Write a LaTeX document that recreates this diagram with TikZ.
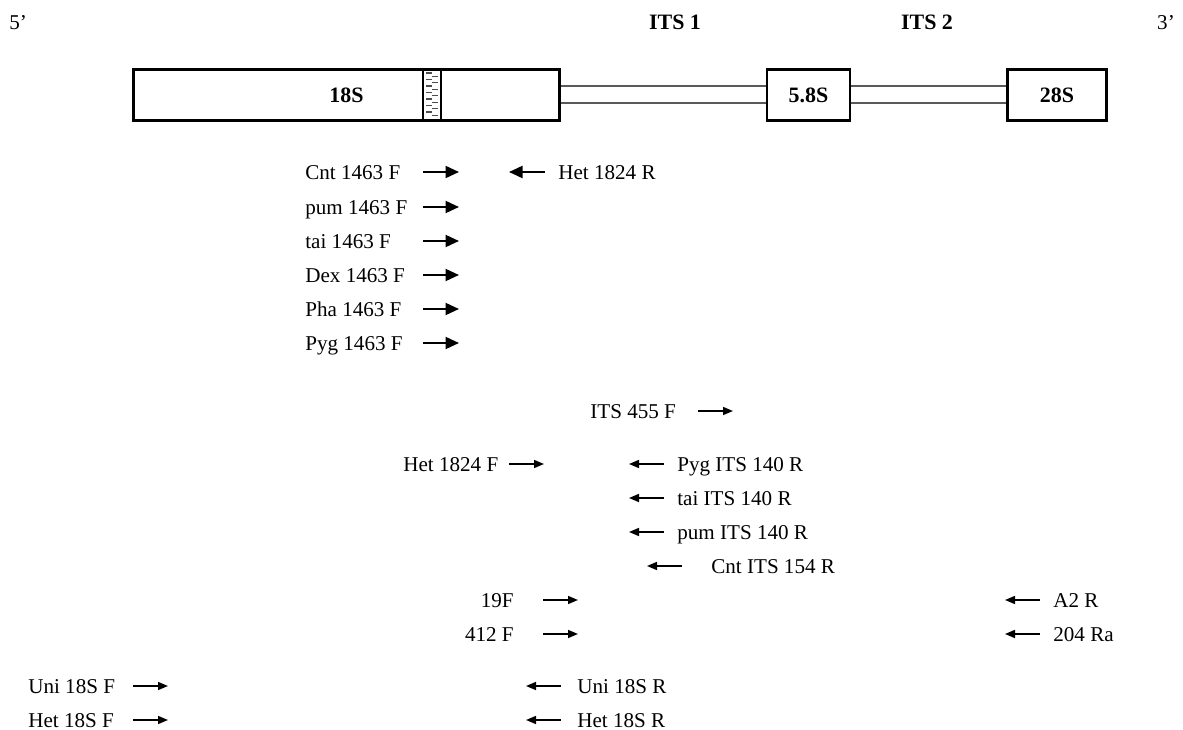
\documentclass[tikz,border=0pt]{standalone}
\usepackage{fontspec}
\setmainfont{Liberation Serif}
\usetikzlibrary{arrows.meta}
\tikzset{primer/.style={inner sep=0pt, text height=8pt, text depth=0pt, font=\fontsize{12}{14}\selectfont}}
\tikzset{gene/.style={draw, line width=1.6pt, fill=white, minimum height=1.02cm, inner sep=0pt, font=\fontsize{12.5}{14}\selectfont\bfseries}}

\begin{document}
\begin{tikzpicture}[x=0.02cm, y=-0.02cm,
  fwd/.style={-{Triangle[length=0.27cm, width=0.24cm]}, line width=1.2pt},
  thin fwd/.style={-{Triangle[length=0.2cm, width=0.16cm]}, line width=0.9pt},
  spacer/.style={draw=black!65, line width=0.8pt}]
\useasboundingbox (0,0) rectangle (1183,730);
% heading
\node[primer, anchor=west] (fiveprime) at (9,22) {5’};
\node[primer, font=\fontsize{12.5}{14}\selectfont\bfseries] (its1) at (675,22) {ITS 1};
\node[primer, font=\fontsize{12.5}{14}\selectfont\bfseries] (its2) at (927,22) {ITS 2};
\node[primer] (threeprime) at (1166,22) {3’};
% rDNA
\node[gene, minimum width=8.52cm] (s18) at (346.5,95) {18S};
\node[gene, minimum width=1.66cm] (s58) at (808.5,95) {5.8S};
\node[gene, minimum width=1.98cm] (s28) at (1057,95) {28S};
\draw[spacer] ([yshift=0.18cm]s18.east) -- ([yshift=0.18cm]s58.west)
              ([yshift=-0.16cm]s18.east) -- ([yshift=-0.16cm]s58.west);
\draw[spacer] ([yshift=0.18cm]s58.east) -- ([yshift=0.18cm]s28.west)
              ([yshift=-0.16cm]s58.east) -- ([yshift=-0.16cm]s28.west);
\draw[line width=0.8pt] (423,70) rectangle (441,120);
\foreach \yy in {73,79.5,...,116}
  \draw[black!70, line width=0.7pt] (426,\yy) -- ++(6,0) (432,\yy+3.2) -- ++(6,0);
% 1463 F primers
\node[primer, anchor=west] (cnt1463f) at (305,172) {Cnt 1463 F};
\node[primer, anchor=west] (pum1463f) at (305,207) {pum 1463 F};
\node[primer, anchor=west] (tai1463f) at (305,241) {tai 1463 F};
\node[primer, anchor=west] (dex1463f) at (305,275) {Dex 1463 F};
\node[primer, anchor=west] (pha1463f) at (305,309) {Pha 1463 F};
\node[primer, anchor=west] (pyg1463f) at (305,343) {Pyg 1463 F};
\foreach \p in {cnt1463f,pum1463f,tai1463f,dex1463f,pha1463f,pyg1463f}
  \draw[fwd] (\p.west) ++(118,0) -- ++(36,0);
\node[primer, anchor=west] (het1824r) at (558,172) {Het 1824 R};
\draw[fwd] (het1824r.west) ++(-13,0) -- ++(-36,0);
% ITS primers
\node[primer, anchor=west] (its455f) at (590,411) {ITS 455 F};
\draw[thin fwd] (its455f.west) ++(108,0) -- ++(35,0);
\node[primer, anchor=west] (het1824f) at (403,464) {Het 1824 F};
\draw[thin fwd] (het1824f.west) ++(106,0) -- ++(35,0);
\node[primer, anchor=west] (pygits140r) at (677,464) {Pyg ITS 140 R};
\node[primer, anchor=west] (taiits140r) at (677,498) {tai ITS 140 R};
\node[primer, anchor=west] (pumits140r) at (677,532) {pum ITS 140 R};
\foreach \p in {pygits140r,taiits140r,pumits140r}
  \draw[thin fwd] (\p.west) ++(-13,0) -- ++(-35,0);
\node[primer, anchor=west] (cntits154r) at (711,566) {Cnt ITS 154 R};
\draw[thin fwd] (cntits154r.west) ++(-29,0) -- ++(-35,0);
% 19F / 412 F and A2 R / 204 Ra
\node[primer, anchor=east] (f19) at (514,600) {19F};
\node[primer, anchor=east] (f412) at (514,634) {412 F};
\foreach \p in {f19,f412}
  \draw[thin fwd] (\p.east) ++(29,0) -- ++(35,0);
\node[primer, anchor=west] (a2r) at (1053,600) {A2 R};
\node[primer, anchor=west] (r204a) at (1053,634) {204 Ra};
\foreach \p in {a2r,r204a}
  \draw[thin fwd] (\p.west) ++(-13,0) -- ++(-35,0);
% 18S primers
\node[primer, anchor=west] (uni18sf) at (28,686) {Uni 18S F};
\node[primer, anchor=west] (het18sf) at (28,720) {Het 18S F};
\foreach \p in {uni18sf,het18sf}
  \draw[thin fwd] (\p.west) ++(105,0) -- ++(35,0);
\node[primer, anchor=west] (uni18sr) at (577,686) {Uni 18S R};
\node[primer, anchor=west] (het18sr) at (577,720) {Het 18S R};
\foreach \p in {uni18sr,het18sr}
  \draw[thin fwd] (\p.west) ++(-16,0) -- ++(-35,0);
\end{tikzpicture}
\end{document}
